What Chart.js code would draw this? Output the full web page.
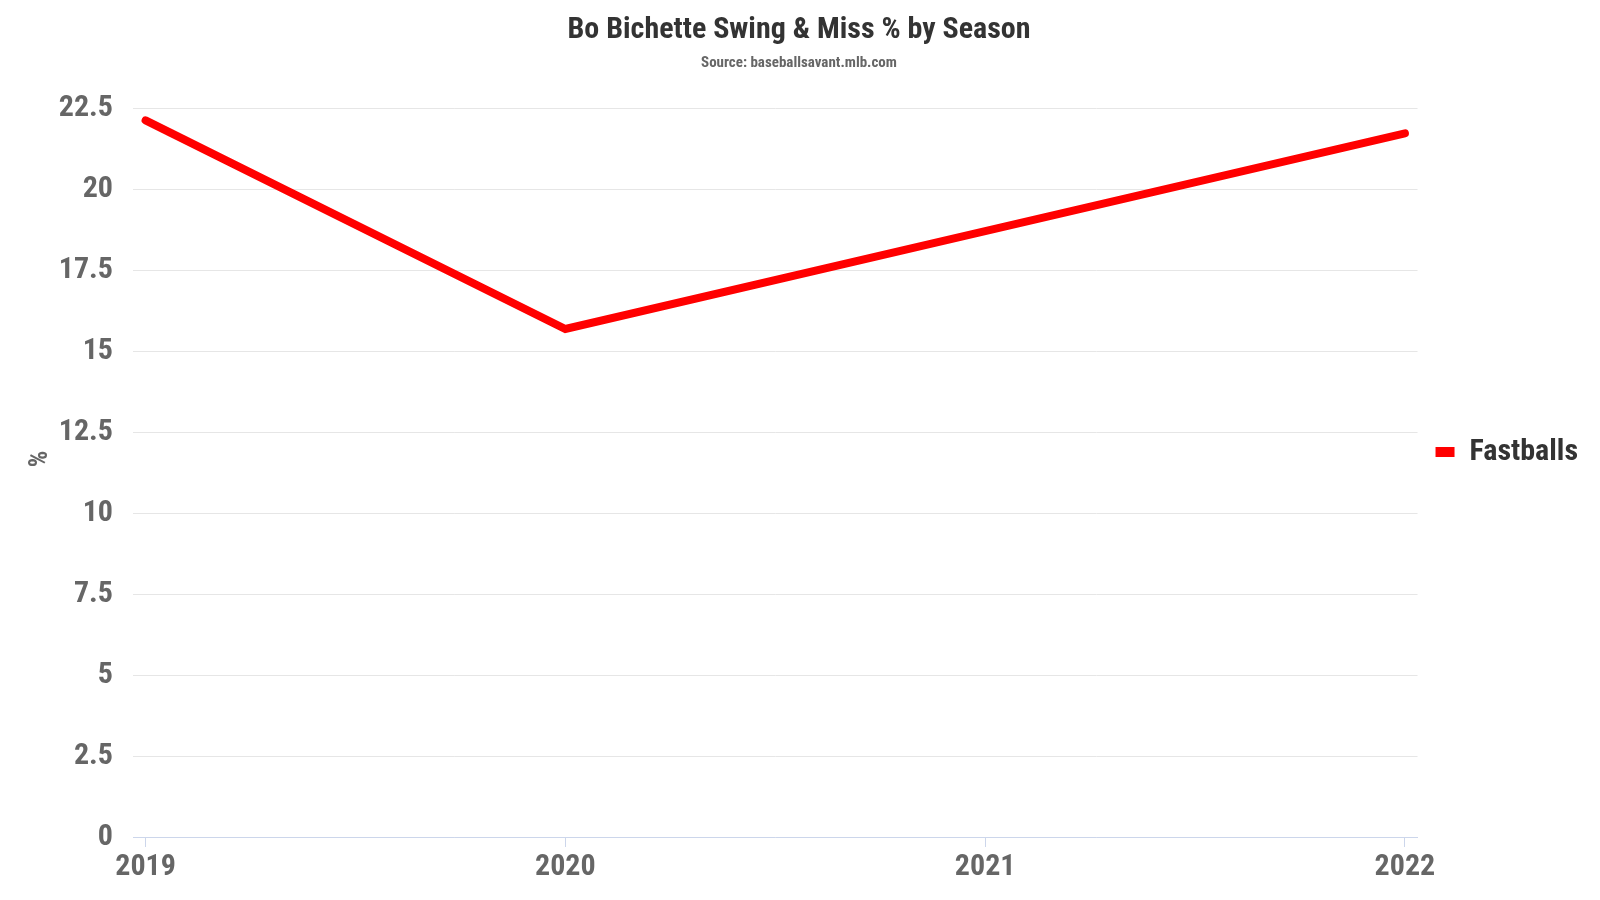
<!DOCTYPE html>
<html>
<head>
<meta charset="utf-8">
<script src="https://cdn.jsdelivr.net/npm/chart.js@4"></script>
<style>
  html, body { margin: 0; padding: 0; background: #fff; }
  #wrap { width: 1600px; height: 900px; }
</style>
</head>
<body>
<div id="wrap"><canvas id="c" width="1600" height="900"></canvas></div>
<script>
const seasons = [2019, 2020, 2021, 2022];
const fastballs = [22.12, 15.68, 18.7, 21.72];
const yTicks = [0, 2.5, 5, 7.5, 10, 12.5, 15, 17.5, 20, 22.5];
const seriesName = 'Fastballs';
const titleText = 'Bo Bichette Swing & Miss % by Season';
const subtitleText = 'Source: baseballsavant.mlb.com';
const yTitle = '%';

const FONT = '"Roboto Condensed", "Liberation Sans Narrow", "DejaVu Sans Condensed", Roboto, sans-serif';

// Rotated y-axis title, placed like the reference (slightly above the axis middle)
const yTitlePlugin = {
  id: 'yTitlePlugin',
  afterDraw(chart) {
    const ctx = chart.ctx;
    ctx.save();
    ctx.translate(40, 459);
    ctx.rotate(-Math.PI / 2);
    ctx.font = 'bold 26px ' + FONT;
    ctx.fillStyle = '#666666';
    ctx.textAlign = 'center';
    ctx.textBaseline = 'middle';
    ctx.fillText(yTitle, 0, 0);
    ctx.restore();
  }
};

new Chart(document.getElementById('c'), {
  type: 'line',
  data: {
    datasets: [{
      label: seriesName,
      data: seasons.map((s, i) => ({ x: s, y: fastballs[i] })),
      borderColor: '#ff0000',
      backgroundColor: '#ff0000',
      borderWidth: 8,
      borderCapStyle: 'round',
      borderJoinStyle: 'miter',
      pointRadius: 0,
      pointHoverRadius: 0,
      tension: 0
    }]
  },
  plugins: [yTitlePlugin],
  options: {
    responsive: false,
    animation: false,
    devicePixelRatio: 1,
    layout: { padding: { top: 10, bottom: 6, left: 10, right: 12 } },
    plugins: {
      title: {
        display: true,
        text: titleText,
        color: '#333333',
        font: { family: FONT, size: 30, weight: 'bold' },
        padding: { top: 2, bottom: 6 }
      },
      subtitle: {
        display: true,
        text: subtitleText,
        color: '#666666',
        font: { family: FONT, size: 15, weight: 'bold' },
        padding: { top: 0, bottom: 36 }
      },
      legend: {
        display: true,
        position: 'right',
        align: 'center',
        labels: {
          color: '#333333',
          font: { family: FONT, size: 30, weight: 'bold' },
          boxWidth: 19,
          boxHeight: 10,
          padding: 10,
          generateLabels: (chart) => chart.data.datasets.map((ds, i) => ({
            text: ds.label,
            fillStyle: ds.borderColor,
            strokeStyle: ds.borderColor,
            lineWidth: 0,
            fontColor: '#333333',
            hidden: false,
            datasetIndex: i
          }))
        }
      },
      tooltip: { enabled: false }
    },
    scales: {
      x: {
        type: 'linear',
        min: 2018.97,
        max: 2022.03,
        afterBuildTicks: (scale) => { scale.ticks = seasons.map(v => ({ value: v })); },
        afterFit: (scale) => { scale.height = 57; },
        grid: {
          display: true,
          drawOnChartArea: false,
          drawTicks: true,
          tickLength: 10,
          color: '#ccd6eb'
        },
        border: { display: true, color: '#ccd6eb', width: 1 },
        ticks: {
          color: '#666666',
          font: { family: FONT, size: 30, weight: 'bold' },
          padding: 2,
          maxRotation: 0,
          autoSkip: false,
          callback: (v) => String(v)
        }
      },
      y: {
        min: 0,
        max: 22.5,
        afterBuildTicks: (scale) => { scale.ticks = yTicks.map(v => ({ value: v })); },
        afterFit: (scale) => { scale.width = 123; },
        grid: { color: '#e6e6e6', drawTicks: false, lineWidth: 1 },
        border: { display: false },
        title: { display: false },
        ticks: {
          color: '#666666',
          font: { family: FONT, size: 30, weight: 'bold' },
          padding: 20,
          callback: (v) => String(v)
        }
      },
      gap: {
        type: 'linear',
        position: 'right',
        display: true,
        afterFit: (scale) => { scale.width = 8; },
        grid: { display: false },
        border: { display: false },
        ticks: { display: false }
      }
    }
  }
});
</script>
</body>
</html>
